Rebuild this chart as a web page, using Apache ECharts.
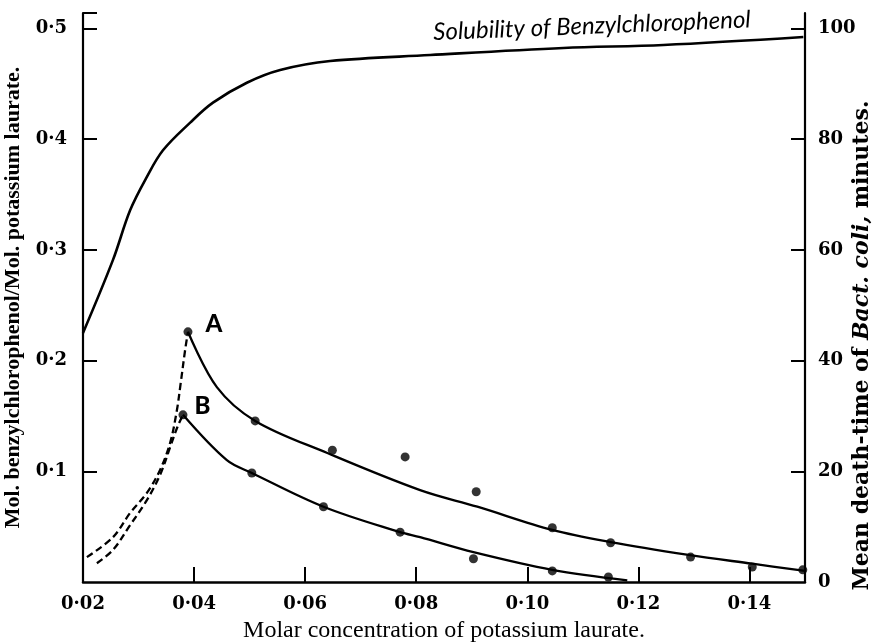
<!DOCTYPE html>
<html>
<head>
<meta charset="utf-8">
<script src="https://cdn.jsdelivr.net/npm/echarts@6/dist/echarts.min.js"></script>
<style>html,body{margin:0;padding:0;background:#fff}#c{width:873px;height:644px}</style>
</head>
<body>
<div id="c"></div>
<script>
// ---- data ----
const xTickValues = [0.02, 0.04, 0.06, 0.08, 0.10, 0.12, 0.14];
const leftTickValues = [0.1, 0.2, 0.3, 0.4, 0.5];
const rightTickValues = [0, 20, 40, 60, 80, 100];

// Solubility of benzylchlorophenol (left axis, mol/mol)
const solX = [0.020, 0.0254, 0.0285, 0.0315, 0.0344, 0.0393, 0.0434, 0.0495, 0.0555, 0.0645, 0.0825, 0.1065, 0.1245, 0.1497];
const solY = [0.225, 0.291, 0.336, 0.366, 0.390, 0.415, 0.433, 0.451, 0.4625, 0.4706, 0.476, 0.4824, 0.4851, 0.4923];

// Curve A (right axis, minutes): fitted solid line and dashed rise
const curveAX = [0.0389, 0.0441, 0.051, 0.064, 0.0807, 0.091, 0.1045, 0.115, 0.129, 0.1405, 0.150];
const curveAY = [45.2, 35.2, 29.1, 23.3, 16.6, 13.6, 9.4, 7.2, 4.9, 3.3, 2.0];
const dashAX = [0.0207, 0.0254, 0.0285, 0.0315, 0.0339, 0.0357, 0.0369, 0.0376, 0.0384, 0.0389];
const dashAY = [4.5, 8.1, 12.5, 16.1, 20.3, 25.2, 31.0, 36.0, 42.0, 45.2];
const pointsAX = [0.0389, 0.051, 0.0649, 0.078, 0.0908, 0.1045, 0.115, 0.1294, 0.1405, 0.1496];
const pointsAY = [45.2, 29.1, 23.8, 22.6, 16.3, 9.8, 7.1, 4.5, 2.7, 2.2];

// Curve B
const curveBX = [0.038, 0.0459, 0.0504, 0.0633, 0.0771, 0.0807, 0.0903, 0.1045, 0.118];
const curveBY = [30.2, 22.0, 19.7, 13.6, 9.0, 8.1, 5.4, 2.2, 0.3];
const dashBX = [0.0225, 0.0254, 0.0285, 0.0315, 0.0339, 0.0357, 0.0370, 0.038];
const dashBY = [3.4, 5.8, 10.3, 14.8, 19.4, 24.4, 28.0, 30.2];
const pointsBX = [0.038, 0.0504, 0.0633, 0.0771, 0.0903, 0.1045, 0.1146];
const pointsBY = [30.2, 19.7, 13.6, 9.0, 4.2, 2.0, 0.9];

const curveLabels = ['A', 'B'];

// ---- chart ----
const zip = (xs, ys) => xs.map((x, i) => [x, ys[i]]);
const tickFont = { fontFamily: 'DejaVu Serif', fontWeight: 'bold', fontSize: 18, color: '#000' };
const axisLine = w => ({ show: true, lineStyle: { color: '#000', width: w } });

function pointData(xs, ys, label, offset) {
  return zip(xs, ys).map((p, i) => i === 0 ? {
    value: p,
    label: { show: true, formatter: label, position: 'right', offset: offset,
      fontFamily: 'Lato', fontWeight: 900, fontSize: 24, color: '#000', opacity: 1 }
  } : { value: p });
}

const chart = echarts.init(document.getElementById('c'), null, { renderer: 'canvas' });
chart.setOption({
  animation: false,
  backgroundColor: '#fff',
  grid: { left: 83, right: 68, top: 13, bottom: 62, outerBoundsMode: 'none', containLabel: false },
  xAxis: {
    type: 'value', min: 0.02, max: 0.15,
    name: 'Molar concentration of potassium laurate.',
    nameLocation: 'middle', nameGap: 37,
    nameTextStyle: { fontFamily: 'Liberation Serif', fontSize: 24, color: '#000' },
    axisLine: axisLine(2.5),
    axisTick: { show: true, inside: true, length: 15, lineStyle: { color: '#000', width: 2 },
      customValues: xTickValues.slice(1) },
    axisLabel: { ...tickFont, margin: 13, customValues: xTickValues,
      formatter: v => v.toFixed(2).replace('.', '\u00b7') },
    splitLine: { show: false }
  },
  yAxis: [{
    type: 'value', min: 0, max: 0.514, position: 'left',
    name: 'Mol. benzylchlorophenol/Mol. potassium laurate.',
    nameLocation: 'middle', nameGap: 56,
    nameTextStyle: { fontFamily: 'Liberation Serif', fontWeight: 'bold', fontSize: 22, color: '#000' },
    axisLine: axisLine(2.2),
    axisTick: { show: true, inside: true, length: 14, lineStyle: { color: '#000', width: 2 },
      customValues: leftTickValues.concat([0.514]) },
    axisLabel: { ...tickFont, margin: 16, customValues: leftTickValues,
      formatter: v => v.toFixed(1).replace('.', '\u00b7') },
    splitLine: { show: false }
  }, {
    type: 'value', min: 0, max: 102.8, position: 'right',
    name: 'Mean death-time of {i|Bact. coli,} minutes.',
    nameLocation: 'middle', nameGap: 46, nameRotate: 90, nameMoveOverlap: false,
    nameTextStyle: { fontFamily: 'DejaVu Serif', fontWeight: 'bold', fontSize: 22, color: '#000',
      padding: [0, 96, 0, 0],
      rich: { i: { fontFamily: 'DejaVu Serif', fontWeight: 'bold', fontStyle: 'italic', fontSize: 22, color: '#000' } } },
    axisLine: axisLine(2.2),
    axisTick: { show: true, inside: true, length: 14, lineStyle: { color: '#000', width: 2 },
      customValues: rightTickValues.slice(1) },
    axisLabel: { ...tickFont, margin: 13, customValues: rightTickValues },
    splitLine: { show: false }
  }],
  graphic: [{
    type: 'text', x: 592, y: 26, rotation: 0.04,
    style: { text: 'Solubility of Benzylchlorophenol', font: 'italic 24px Lato',
      fill: '#000', textAlign: 'center', textVerticalAlign: 'middle' }
  }],
  series: [
    { type: 'line', yAxisIndex: 0, data: zip(solX, solY), smooth: 0.35,
      showSymbol: false, lineStyle: { color: '#000', width: 2.6 } },
    { type: 'line', yAxisIndex: 1, data: zip(curveAX, curveAY), smooth: 0.35,
      showSymbol: false, lineStyle: { color: '#000', width: 2.3 } },
    { type: 'line', yAxisIndex: 1, data: zip(curveBX, curveBY), smooth: 0.35,
      showSymbol: false, lineStyle: { color: '#000', width: 2.3 } },
    { type: 'line', yAxisIndex: 1, data: zip(dashAX, dashAY), smooth: 0.35,
      showSymbol: false, lineStyle: { color: '#000', width: 2.3, type: [7, 4] } },
    { type: 'line', yAxisIndex: 1, data: zip(dashBX, dashBY), smooth: 0.35,
      showSymbol: false, lineStyle: { color: '#000', width: 2.3, type: [7, 4] } },
    { type: 'scatter', yAxisIndex: 1, symbolSize: 9, itemStyle: { color: '#000' },
      data: pointData(pointsAX, pointsAY, curveLabels[0], [8, -8]) },
    { type: 'scatter', yAxisIndex: 1, symbolSize: 9, itemStyle: { color: '#000' },
      data: pointData(pointsBX, pointsBY, curveLabels[1], [2, -9]) }
  ]
});
</script>
</body>
</html>
